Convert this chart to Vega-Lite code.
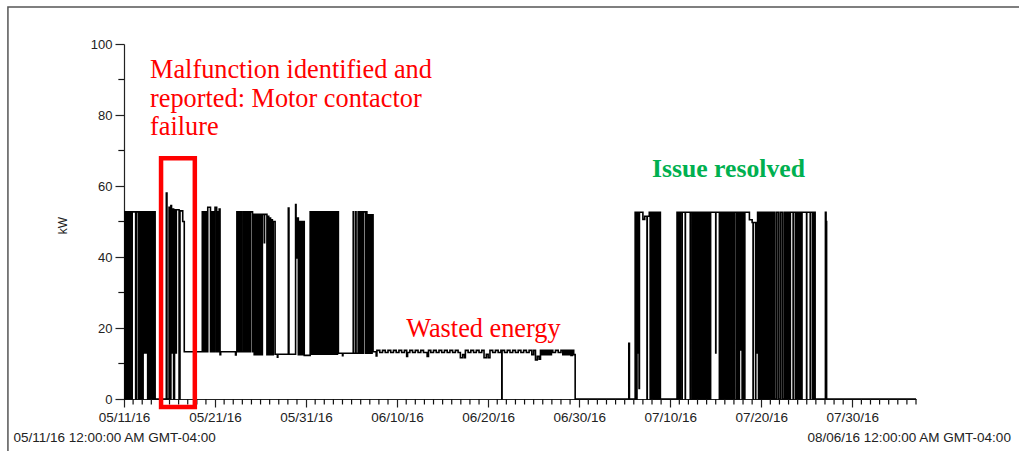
{
  "$schema": "https://vega.github.io/schema/vega-lite/v6.json",
  "width": 792,
  "height": 355,
  "autosize": {"type": "none"},
  "padding": {"left": 124, "top": 44, "right": 103, "bottom": 52},
  "background": "white",
  "config": {
    "view": {"stroke": null},
    "axis": {
      "grid": false,
      "labelFont": "Liberation Sans",
      "labelColor": "#222",
      "tickColor": "#222",
      "domainColor": "#222",
      "tickWidth": 1.2,
      "domainWidth": 1.2,
      "titleFont": "Liberation Sans",
      "titleFontWeight": "normal",
      "titleColor": "#222",
      "labelFlush": false,
      "labelOverlap": false,
      "labelBound": false
    }
  },
  "datasets": {
    "kw": [
      {"d":0,"k":0},{"d":0.1,"k":52.7},{"d":0.2,"k":0},{"d":0.3,"k":52.7},{"d":0.4,"k":0},{"d":0.5,"k":52.7},{"d":0.6,"k":0},{"d":0.7,"k":52.7},{"d":0.8,"k":0},{"d":0.9,"k":52.7},
      {"d":1.28,"k":0},{"d":1.38,"k":52.7},{"d":1.6,"k":0},{"d":1.7,"k":52.7},{"d":1.8,"k":0},{"d":1.9,"k":52.7},{"d":2.0,"k":0},{"d":2.1,"k":52.7},{"d":2.2,"k":13},{"d":2.3,"k":52.7},
      {"d":2.4,"k":13},{"d":2.5,"k":52.7},{"d":2.6,"k":0},{"d":2.7,"k":52.7},{"d":2.8,"k":0},{"d":2.9,"k":52.7},{"d":3.0,"k":0},{"d":3.1,"k":52.7},{"d":3.2,"k":0},{"d":3.3,"k":52.7},
      {"d":3.42,"k":0},{"d":4.65,"k":58},{"d":4.72,"k":0},{"d":4.95,"k":54},{"d":5.02,"k":0},{"d":5.15,"k":54.5},{"d":5.22,"k":13},{"d":5.35,"k":53.5},{"d":5.45,"k":0},{"d":5.55,"k":53.3},
      {"d":5.65,"k":13},{"d":5.75,"k":53.3},{"d":6.05,"k":0},{"d":6.15,"k":53},{"d":6.45,"k":50},{"d":6.62,"k":13.3},
      {"d":8.6,"k":52.7},{"d":8.7,"k":13.3},{"d":8.8,"k":52.7},{"d":8.9,"k":13.3},{"d":9.0,"k":52.7},{"d":9.1,"k":13.3},{"d":9.2,"k":54},{"d":9.5,"k":13.3},{"d":9.6,"k":52.7},{"d":9.7,"k":13.3},
      {"d":9.8,"k":52.7},{"d":9.9,"k":13.3},{"d":10.0,"k":54},{"d":10.18,"k":13.3},{"d":10.28,"k":52.7},{"d":10.38,"k":13.3},{"d":10.46,"k":53.5},{"d":10.55,"k":12.5},{"d":10.62,"k":13.3},
      {"d":12.25,"k":12.4},{"d":12.32,"k":13.3},{"d":12.4,"k":52.7},{"d":12.5,"k":13.3},{"d":12.6,"k":52.7},{"d":12.7,"k":13.3},{"d":12.8,"k":52.7},{"d":12.92,"k":13.3},
      {"d":13.1,"k":52.7},{"d":13.2,"k":13.3},{"d":13.3,"k":52.7},{"d":13.4,"k":13.3},{"d":13.5,"k":52.7},{"d":13.62,"k":13.3},{"d":13.64,"k":52.7},{"d":13.8,"k":13.3},{"d":13.9,"k":52.7},
      {"d":14.12,"k":13.3},{"d":14.2,"k":52},{"d":14.3,"k":12.5},{"d":14.4,"k":52},{"d":14.5,"k":12.5},{"d":14.6,"k":52},{"d":14.7,"k":12.5},{"d":14.8,"k":52},{"d":14.9,"k":12.5},{"d":15.0,"k":52},
      {"d":15.1,"k":12.5},{"d":15.2,"k":52},{"d":15.42,"k":44},{"d":15.44,"k":52},{"d":15.7,"k":12.5},{"d":15.8,"k":51.5},{"d":15.9,"k":12.5},{"d":16.0,"k":51},{"d":16.1,"k":12.5},{"d":16.2,"k":50.5},
      {"d":16.3,"k":12.5},{"d":16.4,"k":50},{"d":16.6,"k":12.6},{"d":16.85,"k":11.8},{"d":16.9,"k":12.6},{"d":18.05,"k":53.8},{"d":18.12,"k":12.6},
      {"d":18.85,"k":54.8},{"d":18.9,"k":51},{"d":18.98,"k":39.7},{"d":19.0,"k":51},{"d":19.15,"k":12.5},{"d":19.25,"k":50},{"d":19.35,"k":12.5},{"d":19.45,"k":50},{"d":19.55,"k":12.5},{"d":19.65,"k":50},{"d":19.8,"k":12.3},
      {"d":20.45,"k":52.7},{"d":20.55,"k":12.6},{"d":20.65,"k":52.7},{"d":20.8,"k":12.6},{"d":20.9,"k":52.7},{"d":21.0,"k":12.6},{"d":21.1,"k":52.7},{"d":21.2,"k":12.6},{"d":21.3,"k":52.7},{"d":21.4,"k":12.6},
      {"d":21.5,"k":52.7},{"d":21.6,"k":12.6},{"d":21.7,"k":52.7},{"d":21.85,"k":12.6},{"d":21.95,"k":52.7},{"d":22.05,"k":12.6},{"d":22.15,"k":52.7},{"d":22.25,"k":12.6},{"d":22.35,"k":52.7},{"d":22.45,"k":12.6},
      {"d":22.55,"k":52.7},{"d":22.7,"k":12.6},{"d":22.8,"k":52.7},{"d":22.9,"k":12.6},{"d":23.0,"k":52.7},{"d":23.15,"k":12.6},{"d":23.25,"k":52.7},{"d":23.35,"k":12.6},{"d":23.45,"k":52.7},{"d":23.55,"k":12.9},
      {"d":24.0,"k":12.2},{"d":24.05,"k":12.9},{"d":25.18,"k":52.7},{"d":25.22,"k":12.9},{"d":25.45,"k":52.7},{"d":25.49,"k":12.9},
      {"d":25.72,"k":52.7},{"d":25.82,"k":12.9},{"d":25.92,"k":52.7},{"d":26.02,"k":12.9},{"d":26.12,"k":52.7},{"d":26.22,"k":12.9},{"d":26.32,"k":52.7},{"d":26.55,"k":12.9},{"d":26.62,"k":52.7},{"d":26.68,"k":12.9},
      {"d":26.85,"k":51.9},{"d":26.95,"k":12.9},{"d":27.05,"k":51.9},{"d":27.15,"k":12.9},{"d":27.25,"k":51.9},{"d":27.36,"k":13.3},
      {"d":27.7,"k":12.1},{"d":27.78,"k":13.7},{"d":28.1,"k":13.1},{"d":28.4,"k":13.7},{"d":28.7,"k":13.1},{"d":29.0,"k":13.7},{"d":29.3,"k":13.1},{"d":29.6,"k":13.7},{"d":29.9,"k":13.1},{"d":30.2,"k":13.7},
      {"d":30.5,"k":13.1},{"d":30.8,"k":13.7},{"d":31.05,"k":12.0},{"d":31.15,"k":13.1},{"d":31.4,"k":13.7},{"d":31.7,"k":13.1},{"d":32.0,"k":13.7},{"d":32.3,"k":13.1},{"d":32.6,"k":13.7},{"d":32.9,"k":13.1},
      {"d":33.3,"k":12.0},{"d":33.45,"k":13.7},{"d":33.7,"k":13.1},{"d":34.0,"k":13.7},{"d":34.3,"k":13.1},{"d":34.6,"k":13.7},{"d":34.9,"k":13.1},{"d":35.2,"k":13.7},{"d":35.5,"k":13.1},{"d":35.8,"k":13.7},
      {"d":36.1,"k":13.1},{"d":36.4,"k":13.7},{"d":36.7,"k":13.1},{"d":36.95,"k":11.6},{"d":37.2,"k":12.5},{"d":37.4,"k":11.6},{"d":37.5,"k":13.7},{"d":37.8,"k":13.1},{"d":38.1,"k":13.7},{"d":38.4,"k":13.1},
      {"d":38.7,"k":13.7},{"d":39.0,"k":13.1},{"d":39.3,"k":13.7},{"d":39.55,"k":11.6},{"d":39.8,"k":12.6},{"d":40.0,"k":11.6},{"d":40.2,"k":13.7},{"d":40.5,"k":13.1},{"d":40.8,"k":13.7},{"d":41.1,"k":13.1},
      {"d":41.4,"k":13.7},{"d":41.5,"k":0},{"d":41.53,"k":13.7},{"d":41.8,"k":13.1},{"d":42.1,"k":13.7},{"d":42.4,"k":13.1},{"d":42.7,"k":13.7},{"d":43.0,"k":13.1},{"d":43.3,"k":13.7},{"d":43.6,"k":13.1},
      {"d":43.9,"k":13.7},{"d":44.2,"k":13.1},{"d":44.5,"k":13.7},{"d":44.8,"k":12.5},{"d":45.0,"k":13.7},{"d":45.2,"k":11.0},{"d":45.4,"k":12.0},{"d":45.6,"k":11.2},{"d":45.75,"k":13.7},{"d":45.9,"k":12.5},
      {"d":46.05,"k":13.7},{"d":46.2,"k":12.5},{"d":46.35,"k":13.7},{"d":46.5,"k":12.5},{"d":46.65,"k":13.7},{"d":46.8,"k":12.5},{"d":46.95,"k":13.7},{"d":47.1,"k":13.1},{"d":47.4,"k":13.7},{"d":47.7,"k":13.1},
      {"d":48.0,"k":13.7},{"d":48.2,"k":12.5},{"d":48.35,"k":13.7},{"d":48.5,"k":12.5},{"d":48.65,"k":13.7},{"d":48.8,"k":12.5},{"d":48.95,"k":13.7},{"d":49.1,"k":12.3},{"d":49.25,"k":13.7},{"d":49.4,"k":12.5},
      {"d":49.56,"k":0},{"d":55.45,"k":15.7},{"d":55.52,"k":0},
      {"d":56.15,"k":52.6},{"d":56.25,"k":0},{"d":56.35,"k":52.6},{"d":56.45,"k":13},{"d":56.5,"k":52.6},{"d":56.58,"k":3},{"d":56.62,"k":52.6},{"d":57.0,"k":50.6},{"d":57.2,"k":51.5},{"d":57.45,"k":0},
      {"d":57.48,"k":51.5},{"d":57.7,"k":52.6},{"d":57.8,"k":0},{"d":57.9,"k":52.6},{"d":58.0,"k":0},{"d":58.1,"k":52.6},{"d":58.2,"k":0},{"d":58.3,"k":52.6},{"d":58.4,"k":0},{"d":58.5,"k":52.6},
      {"d":58.6,"k":0},{"d":58.7,"k":52.6},{"d":58.8,"k":0},{"d":58.88,"k":52.6},{"d":58.92,"k":0},
      {"d":60.75,"k":52.6},{"d":60.85,"k":0},{"d":60.95,"k":52.6},{"d":61.05,"k":0},{"d":61.12,"k":52.6},{"d":61.3,"k":0},{"d":61.32,"k":52.6},{"d":61.65,"k":0},{"d":61.67,"k":52.6},{"d":62.2,"k":0},
      {"d":62.22,"k":52.6},{"d":62.4,"k":0},{"d":62.5,"k":52.6},{"d":62.6,"k":0},{"d":62.7,"k":52.6},{"d":62.8,"k":0},{"d":62.9,"k":52.6},{"d":63.0,"k":0},{"d":63.1,"k":52.6},{"d":63.2,"k":0},
      {"d":63.3,"k":52.6},{"d":63.4,"k":0},{"d":63.5,"k":52.6},{"d":63.6,"k":0},{"d":63.7,"k":52.6},{"d":63.8,"k":0},{"d":63.9,"k":52.6},{"d":64.0,"k":0},{"d":64.1,"k":52.6},{"d":64.2,"k":0},
      {"d":64.25,"k":52.6},{"d":64.42,"k":0},{"d":64.44,"k":52.6},{"d":65.0,"k":13},{"d":65.02,"k":52.6},{"d":65.4,"k":0},{"d":65.5,"k":52.6},{"d":65.6,"k":0},{"d":65.7,"k":52.6},{"d":65.8,"k":0},
      {"d":65.9,"k":52.6},{"d":66.0,"k":0},{"d":66.1,"k":52.6},{"d":66.2,"k":0},{"d":66.3,"k":52.6},{"d":66.4,"k":0},{"d":66.5,"k":52.6},{"d":66.6,"k":0},{"d":66.7,"k":52.6},{"d":66.8,"k":0},
      {"d":66.9,"k":52.6},{"d":67.0,"k":0},{"d":67.1,"k":52.6},{"d":67.3,"k":0},{"d":67.4,"k":52.6},{"d":67.5,"k":0},{"d":67.6,"k":52.6},{"d":67.7,"k":13.8},{"d":67.8,"k":52.6},{"d":67.9,"k":0},
      {"d":68.0,"k":52.6},{"d":68.1,"k":0},{"d":68.2,"k":52.6},{"d":68.7,"k":50.5},{"d":69.0,"k":49.7},{"d":69.1,"k":0},{"d":69.12,"k":49.7},{"d":69.38,"k":0},{"d":69.4,"k":49.7},{"d":69.5,"k":13},
      {"d":69.6,"k":52.6},{"d":69.7,"k":0},{"d":69.8,"k":52.6},{"d":69.9,"k":0},{"d":70.0,"k":52.6},{"d":70.1,"k":0},{"d":70.2,"k":52.6},{"d":70.3,"k":0},{"d":70.4,"k":52.6},{"d":70.5,"k":0},
      {"d":70.6,"k":52.6},{"d":70.7,"k":0},{"d":70.8,"k":52.6},{"d":70.9,"k":0},{"d":71.0,"k":52.6},{"d":71.1,"k":0},{"d":71.2,"k":52.6},{"d":71.3,"k":0},{"d":71.4,"k":52.6},{"d":71.5,"k":0},
      {"d":71.7,"k":52.6},{"d":71.9,"k":0},{"d":72.1,"k":52.6},{"d":72.3,"k":0},{"d":72.5,"k":52.6},{"d":72.65,"k":0},{"d":72.8,"k":52.6},{"d":72.9,"k":0},{"d":73.0,"k":52.6},{"d":73.1,"k":0},
      {"d":73.2,"k":52.6},{"d":73.5,"k":0},{"d":73.52,"k":52.6},{"d":73.75,"k":0},{"d":73.9,"k":52.6},{"d":74.0,"k":0},{"d":74.1,"k":52.6},{"d":74.2,"k":0},{"d":74.3,"k":52.6},{"d":74.4,"k":0},
      {"d":74.48,"k":52.6},{"d":74.98,"k":0},{"d":75.0,"k":52.6},{"d":75.38,"k":0},{"d":75.4,"k":52.6},{"d":75.63,"k":0},{"d":75.65,"k":52.6},{"d":75.75,"k":0},{"d":75.85,"k":52.6},{"d":75.92,"k":0},
      {"d":77.05,"k":52.6},{"d":77.12,"k":50},{"d":77.18,"k":0},{"d":87,"k":0}
    ],
    "minorx": [
      {"d":1},{"d":2},{"d":3},{"d":4},{"d":5},{"d":6},{"d":7},{"d":8},{"d":9},
      {"d":11},{"d":12},{"d":13},{"d":14},{"d":15},{"d":16},{"d":17},{"d":18},{"d":19},
      {"d":21},{"d":22},{"d":23},{"d":24},{"d":25},{"d":26},{"d":27},{"d":28},{"d":29},
      {"d":31},{"d":32},{"d":33},{"d":34},{"d":35},{"d":36},{"d":37},{"d":38},{"d":39},
      {"d":41},{"d":42},{"d":43},{"d":44},{"d":45},{"d":46},{"d":47},{"d":48},{"d":49},
      {"d":51},{"d":52},{"d":53},{"d":54},{"d":55},{"d":56},{"d":57},{"d":58},{"d":59},
      {"d":61},{"d":62},{"d":63},{"d":64},{"d":65},{"d":66},{"d":67},{"d":68},{"d":69},
      {"d":71},{"d":72},{"d":73},{"d":74},{"d":75},{"d":76},{"d":77},{"d":78},{"d":79},
      {"d":81},{"d":82},{"d":83},{"d":84},{"d":85},{"d":86},{"d":87}
    ],
    "minory": [{"k":10},{"k":30},{"k":50},{"k":70},{"k":90}],
    "frame": [{"x1": -12.75, "x2": 99, "y1": 110.4, "y2": -20}],
    "box": [{"d1": 4.07, "d2": 7.78, "k1": 67.8, "k2": -2.25}],
    "red": [
      {"d": 2.86, "k": 90.4, "t": "Malfunction identified and\nreported: Motor contactor\nfailure"},
      {"d": 31.0, "k": 17.5, "t": "Wasted energy"}
    ],
    "green": [{"d": 58.0, "k": 62.5, "t": "Issue resolved"}]
  },
  "layer": [
    {
      "data": {"name": "frame"},
      "mark": {"type": "rect", "filled": false, "color": "#555", "strokeWidth": 1.5},
      "encoding": {
        "x": {"field": "x1", "type": "quantitative", "scale": {"domain": [0, 87], "nice": false, "zero": false}, "axis": null},
        "x2": {"field": "x2"},
        "y": {"field": "y1", "type": "quantitative", "scale": {"domain": [0, 100], "nice": false}, "axis": null},
        "y2": {"field": "y2"}
      }
    },
    {
      "data": {"name": "kw"},
      "mark": {"type": "line", "interpolate": "step-after", "color": "#000", "strokeWidth": 1.6},
      "encoding": {
        "x": {
          "field": "d", "type": "quantitative",
          "scale": {"domain": [0, 87], "nice": false, "zero": false},
          "axis": {
            "orient": "bottom",
            "values": [0, 10, 20, 30, 40, 50, 60, 70, 80],
            "labelExpr": "timeFormat(datetime(2016, 4, 11 + datum.value), '%m/%d/%y')",
            "tickSize": 8,
            "labelPadding": 3,
            "labelFontSize": 13.5,
            "title": "05/11/16 12:00:00 AM GMT-04:00",
            "titleFontSize": 13.5,
            "titleX": -111,
            "titleY": 38,
            "titleAlign": "left",
            "titleBaseline": "middle",
            "titleAngle": 0
          }
        },
        "y": {
          "field": "k", "type": "quantitative",
          "scale": {"domain": [0, 100], "nice": false},
          "axis": {
            "orient": "left",
            "values": [0, 20, 40, 60, 80, 100],
            "tickSize": 9,
            "labelPadding": 3,
            "labelFontSize": 13,
            "title": "kW",
            "titleFontSize": 12,
            "titleX": -62,
            "titleY": 181,
            "titleAngle": -90,
            "titleAlign": "center",
            "titleBaseline": "middle"
          }
        }
      }
    },
    {
      "data": {"name": "minorx"},
      "mark": {"type": "rule", "color": "#111", "strokeWidth": 1.2},
      "encoding": {
        "x": {"field": "d", "type": "quantitative", "scale": {"domain": [0, 87], "nice": false, "zero": false}, "axis": null},
        "y": {"datum": 0, "type": "quantitative", "scale": {"domain": [0, 100], "nice": false}, "axis": null},
        "y2": {"datum": -1.55}
      }
    },
    {
      "data": {"name": "minory"},
      "mark": {"type": "rule", "color": "#111", "strokeWidth": 1.2},
      "encoding": {
        "y": {"field": "k", "type": "quantitative", "scale": {"domain": [0, 100], "nice": false}, "axis": null},
        "x": {"datum": 0, "type": "quantitative", "scale": {"domain": [0, 87], "nice": false, "zero": false}, "axis": null},
        "x2": {"datum": -0.62}
      }
    },
    {
      "data": {"name": "box"},
      "mark": {"type": "rect", "filled": false, "color": "#ff0000", "strokeWidth": 4.5},
      "encoding": {
        "x": {
          "field": "d1", "type": "quantitative",
          "scale": {"domain": [0, 87], "nice": false, "zero": false},
          "axis": {
            "orient": "bottom",
            "values": [],
            "labels": false,
            "ticks": false,
            "domain": false,
            "title": "08/06/16 12:00:00 AM GMT-04:00",
            "titleFontSize": 13.5,
            "titleX": 683,
            "titleY": 38,
            "titleAlign": "left",
            "titleBaseline": "middle",
            "titleAngle": 0
          }
        },
        "x2": {"field": "d2"},
        "y": {"field": "k1", "type": "quantitative", "scale": {"domain": [0, 100], "nice": false}, "axis": null},
        "y2": {"field": "k2"}
      }
    },
    {
      "data": {"name": "red"},
      "mark": {"type": "text", "align": "left", "baseline": "alphabetic", "font": "Liberation Serif", "fontSize": 26.3, "color": "#ff0000", "lineBreak": "\n", "lineHeight": 28.5},
      "encoding": {
        "x": {"field": "d", "type": "quantitative", "scale": {"domain": [0, 87], "nice": false, "zero": false}, "axis": null},
        "y": {"field": "k", "type": "quantitative", "scale": {"domain": [0, 100], "nice": false}, "axis": null},
        "text": {"field": "t"}
      }
    },
    {
      "data": {"name": "green"},
      "mark": {"type": "text", "align": "left", "baseline": "alphabetic", "font": "Liberation Serif", "fontSize": 25.7, "fontWeight": "bold", "color": "#00b050"},
      "encoding": {
        "x": {"field": "d", "type": "quantitative", "scale": {"domain": [0, 87], "nice": false, "zero": false}, "axis": null},
        "y": {"field": "k", "type": "quantitative", "scale": {"domain": [0, 100], "nice": false}, "axis": null},
        "text": {"field": "t"}
      }
    }
  ],
  "resolve": {"axis": {"x": "independent", "y": "independent"}}
}
